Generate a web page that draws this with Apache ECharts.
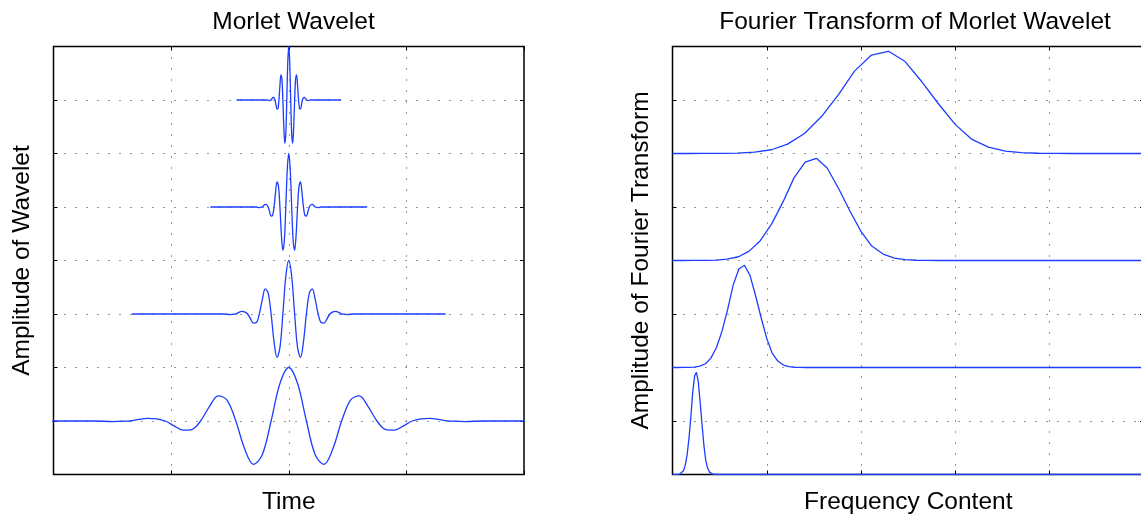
<!DOCTYPE html>
<html>
<head>
<meta charset="utf-8">
<script src="https://cdn.jsdelivr.net/npm/echarts@6/dist/echarts.min.js"></script>
<style>
  html, body { margin: 0; padding: 0; background: #ffffff; }
  #chart { width: 1141px; height: 518px; }
</style>
</head>
<body>
<div id="chart"></div>
<script>
// Dilation of each wavelet, bottom row to top row (same order for the spectra)
const dilation = [1, 3, 6, 9];
// Vertical offsets used to stack the curves
const waveletBaseline = [1, 3, 5, 7];
const spectrumBaseline = [0, 2, 4, 6];
// Centre of the wavelets on the time axis
const waveletCentre = 2;

// Real part of the widest Morlet wavelet: offset from the centre and amplitude
const waveletTime = [
  -4, -1.65, -1.5, -1.425, -1.35, -1.275, -1.2, -1.125, -1.05, -0.975, -0.9, -0.825,
  -0.75, -0.675, -0.6, -0.525, -0.45, -0.375, -0.3, -0.225, -0.15, -0.075,
  0,
  0.075, 0.15, 0.225, 0.3, 0.375, 0.45, 0.525, 0.6, 0.675, 0.75,
  0.825, 0.9, 0.975, 1.05, 1.125, 1.2, 1.275, 1.35, 1.425, 1.5, 1.65, 4
];
const waveletAmp = [
  0, 0, -0.01, -0.005, 0, 0.03, 0.05, 0.04, 0, -0.09, -0.17, -0.16,
  0, 0.27, 0.47, 0.39, 0, -0.52, -0.81, -0.63, 0, 0.70,
  1.00,
  0.70, 0, -0.63, -0.81, -0.52, 0, 0.39, 0.47, 0.27, 0,
  -0.16, -0.17, -0.09, 0, 0.04, 0.05, 0.03, 0, -0.005, -0.01, 0, 0
];

// Fourier amplitude of the narrowest wavelet (dilation 9), sampled in frequency
const spectrumFreq = [
  0, 0.16, 0.34, 0.52, 0.69, 0.87, 1.05, 1.22, 1.40, 1.58, 1.76, 1.93,
  2.11, 2.29, 2.46, 2.64, 2.82, 3.00, 3.17, 3.35, 3.53, 3.70, 3.88, 4.06, 4.23
];
const spectrumAmp = [
  0, 0, 0.001, 0.002, 0.008, 0.026, 0.07, 0.175, 0.375, 0.69, 1.10, 1.54,
  1.84, 1.91, 1.73, 1.35, 0.93, 0.54, 0.27, 0.12, 0.045, 0.016, 0.005, 0.001, 0
];
const freqDilation = 9;

const timeMax = 4;
const freqMax = 5;
const ampMax = 8;

const FONT = 'Liberation Sans, Helvetica, Arial, sans-serif';
const FONT_SIZE = 24.5;
const LINE = '#1d3dff';

const waveletSeries = dilation.map((d, k) => ({
  type: 'line',
  xAxisIndex: 0,
  yAxisIndex: 0,
  showSymbol: false,
  smooth: 0.35,
  clip: true,
  lineStyle: { color: LINE, width: 1.3 },
  data: waveletTime.map((u, i) => [waveletCentre + u / d, waveletBaseline[k] + waveletAmp[i]])
}));

const spectrumSeries = dilation.map((d, k) => {
  const pts = spectrumFreq.map((f, i) => [f * d / freqDilation, spectrumBaseline[k] + spectrumAmp[i]]);
  pts.push([freqMax, spectrumBaseline[k]]);
  return {
    type: 'line',
    xAxisIndex: 2,
    yAxisIndex: 2,
    showSymbol: false,
    clip: true,
    lineStyle: { color: LINE, width: 1.3 },
    data: pts
  };
});

const nameStyle = { fontFamily: FONT, fontSize: FONT_SIZE, color: '#000' };
const dotted = { type: [1, 10], color: '#333', width: 1 };
const tick = { inside: true, length: 4, lineStyle: { color: '#000', width: 1 } };
const hiddenLine = { show: false, onZero: false };

function mainX(grid, max, name) {
  return {
    gridIndex: grid, type: 'value', min: 0, max: max, interval: 1, position: 'bottom',
    axisLine: hiddenLine, axisTick: tick, axisLabel: { show: false },
    splitLine: { show: true, showMinLine: false, showMaxLine: false, lineStyle: dotted },
    name: name, nameLocation: 'middle', nameGap: 15, nameTextStyle: nameStyle
  };
}
function mirrorX(grid, max) {
  return {
    gridIndex: grid, type: 'value', min: 0, max: max, interval: 1, position: 'top',
    axisLine: hiddenLine, axisTick: tick, axisLabel: { show: false }, splitLine: { show: false }
  };
}
function mainY(grid, name) {
  return {
    gridIndex: grid, type: 'value', min: 0, max: ampMax, interval: 1, position: 'left',
    axisLine: hiddenLine, axisTick: tick, axisLabel: { show: false },
    splitLine: { show: true, showMinLine: false, showMaxLine: false, lineStyle: dotted },
    name: name, nameLocation: 'middle', nameGap: 19, nameRotate: 90, nameTextStyle: nameStyle
  };
}
function mirrorY(grid) {
  return {
    gridIndex: grid, type: 'value', min: 0, max: ampMax, interval: 1, position: 'right',
    axisLine: hiddenLine, axisTick: tick, axisLabel: { show: false }, splitLine: { show: false }
  };
}

const gridBase = {
  top: 46.5, height: 428, show: true, borderColor: '#000', borderWidth: 1.5,
  backgroundColor: 'transparent', containLabel: false, outerBoundsMode: 'none'
};

const chart = echarts.init(document.getElementById('chart'), null, { renderer: 'canvas' });
chart.setOption({
  animation: false,
  backgroundColor: '#ffffff',
  title: [
    { text: 'Morlet Wavelet', left: 288.5, top: 5, textAlign: 'center',
      textStyle: { fontFamily: FONT, fontSize: FONT_SIZE, fontWeight: 'normal', color: '#000' } },
    { text: 'Fourier Transform of Morlet Wavelet', left: 910, top: 5, textAlign: 'center',
      textStyle: { fontFamily: FONT, fontSize: FONT_SIZE, fontWeight: 'normal', color: '#000' } }
  ],
  grid: [
    Object.assign({ left: 53.5, width: 470.5 }, gridBase),
    Object.assign({ left: 672.5, width: 471.5 }, gridBase)
  ],
  xAxis: [mainX(0, timeMax, 'Time'), mirrorX(0, timeMax), mainX(1, freqMax, 'Frequency Content'), mirrorX(1, freqMax)],
  yAxis: [mainY(0, 'Amplitude of Wavelet'), mirrorY(0), mainY(1, 'Amplitude of Fourier Transform'), mirrorY(1)],
  series: waveletSeries.concat(spectrumSeries)
});
</script>
</body>
</html>
